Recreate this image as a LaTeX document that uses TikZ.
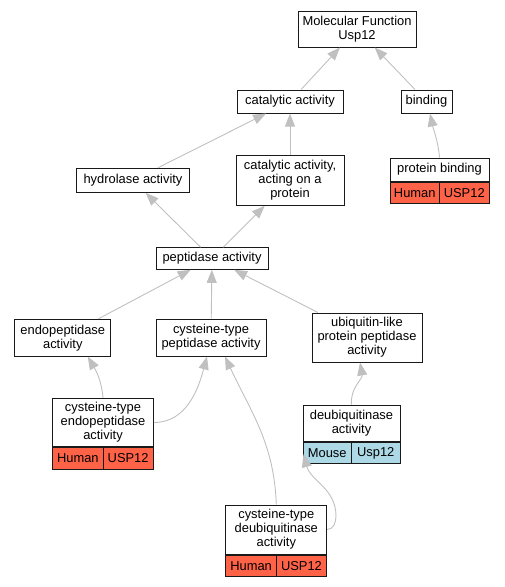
\documentclass[tikz,border=0pt]{standalone}
\usepackage{fontspec}
\setmainfont{Liberation Sans}
\usetikzlibrary{arrows.meta}
\definecolor{tomato}{HTML}{FF6347}
\definecolor{lightblue}{HTML}{ADD8E6}
\definecolor{edgegray}{HTML}{C0C0C0}

\begin{document}
\begin{tikzpicture}[x=1pt,y=-1pt,
  term/.style={draw=black!90,line width=1pt,fill=white,inner sep=0pt,align=center,font=\fontsize{12.9}{14}\selectfont},
  human/.style={term,fill=tomato,minimum height=21.7pt},
  mouse/.style={term,fill=lightblue,minimum height=21.7pt},
  isa/.style={draw=edgegray,line width=0.9pt,-{Triangle[length=13pt,width=10pt]}}]
\useasboundingbox (0,0) rectangle (504,587);

% terms
\node[term,minimum width=118pt,minimum height=36pt] (mf) at (357,29) {Molecular Function\\Usp12};
\node[term,minimum width=106pt,minimum height=23pt] (catal) at (290,101.5) {catalytic activity};
\node[term,minimum width=51pt,minimum height=23pt] (binding) at (426.5,101.5) {binding};
\node[term,minimum width=99pt,minimum height=23pt] (pbind) at (439.5,169.5) {protein binding};
\node[term,minimum width=112.6pt,minimum height=24pt] (hydro) at (133,180.3) {hydrolase activity};
\node[term,minimum width=108pt,minimum height=49.6pt] (cacting) at (290,180.5) {catalytic activity,\\acting on a\\protein};
\node[term,minimum width=112pt,minimum height=21.6pt] (pept) at (212,258.5) {peptidase activity};
\node[term,minimum width=95.7pt,minimum height=36.7pt] (endo) at (62.8,337.7) {endopeptidase\\activity};
\node[term,minimum width=110pt,minimum height=37pt] (cpep) at (211,337.5) {cysteine-type\\peptidase activity};
\node[term,minimum width=110pt,minimum height=49pt] (ubiq) at (367,337.5) {ubiquitin-like\\protein peptidase\\activity};
\node[term,minimum width=100.6pt,minimum height=48.4pt] (cendo) at (103,422.5) {cysteine-type\\endopeptidase\\activity};
\node[term,minimum width=97pt,minimum height=36pt] (deubiq) at (351.5,423) {deubiquitinase\\activity};
\node[term,minimum width=100.7pt,minimum height=49pt] (cdeub) at (276.3,529.5) {cysteine-type\\deubiquitinase\\activity};

% species / gene cells
\node[human,minimum width=49.5pt,anchor=north west] (pbindS) at (pbind.south west) {Human};
\node[human,minimum width=49.5pt,anchor=north east] (pbindG) at (pbind.south east) {USP12};
\node[human,minimum width=50.3pt,anchor=north west] (cendoS) at (cendo.south west) {Human};
\node[human,minimum width=50.3pt,anchor=north east] (cendoG) at (cendo.south east) {USP12};
\node[mouse,minimum width=48.5pt,anchor=north west] (deubiqS) at (deubiq.south west) {Mouse};
\node[mouse,minimum width=48.5pt,anchor=north east] (deubiqG) at (deubiq.south east) {Usp12};
\node[human,minimum width=50.35pt,anchor=north west] (cdeubS) at (cdeub.south west) {Human};
\node[human,minimum width=50.35pt,anchor=north east] (cdeubG) at (cdeub.south east) {USP12};

% is_a edges
\draw[isa] (catal) -- (mf);
\draw[isa] (binding) -- (mf);
\draw[isa] (pbind.north) to[out=95,in=-78] ([xshift=3.5pt]binding.south);
\draw[isa] (hydro) -- (catal);
\draw[isa] (cacting) -- (catal);
\draw[isa] (pept) -- (hydro);
\draw[isa] (pept) -- (cacting);
\draw[isa] (endo) -- (pept);
\draw[isa] (cpep) -- (pept);
\draw[isa] (ubiq) -- (pept);
\draw[isa] (cendo.north) to[out=95,in=-60] ([xshift=25pt]endo.south);
\draw[isa] (cendo.east) to[out=0,in=-105] ([xshift=-4pt]cpep.south);
\draw[isa] (cdeub.north) to[out=92,in=-65] ([xshift=14pt]cpep.south);
\draw[isa] (deubiq.north) to[out=95,in=-80] ([xshift=-7pt]ubiq.south);
\coordinate (loop) at (336,516);
\draw[isa] (cdeub.east) to[out=0,in=-90] (loop) to[out=90,in=-75] ([xshift=1pt,yshift=10pt]deubiqS.south west);
\end{tikzpicture}
\end{document}
